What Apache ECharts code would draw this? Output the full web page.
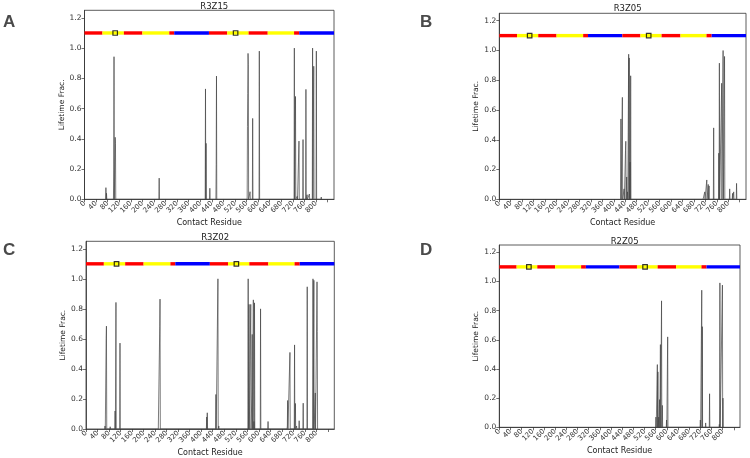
<!DOCTYPE html>
<html>
<head>
<meta charset="utf-8">
<script src="https://cdn.jsdelivr.net/npm/echarts@6/dist/echarts.min.js"></script>
<style>
  html, body { margin: 0; padding: 0; background: #fff; }
  #chart { width: 750px; height: 458px; }
</style>
</head>
<body>
<div id="chart"></div>
<script>
// residue range and tick labels
const residueMax = 862
const xTicks = [0, 40, 80, 120, 160, 200, 240, 280, 320, 360, 400, 440, 480, 520, 560, 600, 640, 680, 720, 760, 800]
const yTicks = [0, 0.2, 0.4, 0.6, 0.8, 1.0, 1.2]

// domain bar drawn at y = 1.1
const barLevel = 1.1
const segStart = [0, 62, 136, 200, 293, 310, 430, 493, 567, 633, 724, 742]
const segEnd = [62, 136, 200, 293, 310, 430, 493, 567, 633, 724, 742, 862]
const segKind = ['r', 'y', 'r', 'y', 'r', 'b', 'r', 'y', 'r', 'y', 'r', 'b']
const markResidues = [106, 522]

// lifetime fraction spikes, per panel
const titles = ['R3Z15', 'R3Z05', 'R3Z02', 'R2Z05']
const letters = ['A', 'B', 'C', 'D']

const resA = [74, 76, 101, 102, 106, 107, 258, 418, 420, 433, 455, 456, 563, 564, 565, 566, 572, 581, 604, 725, 729, 735, 741, 755, 765, 769, 777, 788, 792, 801, 818]
const valA = [0.077, 0.04, 0.2, 0.943, 0.41, 0.37, 0.14, 0.73, 0.37, 0.073, 0.23, 0.815, 0.48, 0.7, 0.965, 0.89, 0.05, 0.535, 0.98, 1.0, 0.68, 0.02, 0.385, 0.395, 0.727, 0.03, 0.035, 1.0, 0.88, 0.98, 0.015]

const resB = [425, 430, 436, 441, 442, 445, 448, 452, 454, 457, 459, 713, 718, 725, 730, 733, 749, 767, 769, 777, 782, 787, 805, 815, 819, 829]
const valB = [0.54, 0.685, 0.07, 0.33, 0.39, 0.15, 0.05, 0.975, 0.95, 0.25, 0.83, 0.01, 0.05, 0.13, 0.1, 0.09, 0.48, 0.31, 0.915, 0.78, 1.0, 0.96, 0.07, 0.04, 0.05, 0.107]

const resC = [66, 70, 71, 84, 101, 104, 118, 252, 256, 257, 419, 421, 451, 458, 461, 563, 566, 572, 576, 577, 581, 583, 585, 606, 632, 699, 700, 708, 724, 727, 731, 740, 754, 768, 788, 791, 796, 802, 803]
const valC = [0.02, 0.6, 0.685, 0.015, 0.12, 0.843, 0.572, 0.01, 0.68, 0.865, 0.08, 0.108, 0.23, 1.0, 0.02, 1.0, 0.83, 0.83, 0.24, 0.63, 0.86, 0.05, 0.84, 0.8, 0.05, 0.02, 0.19, 0.51, 0.56, 0.17, 0.02, 0.055, 0.172, 0.947, 1.0, 0.99, 0.24, 0.98, 0.65]

const resD = [561, 566, 568, 571, 574, 577, 581, 584, 599, 603, 720, 725, 727, 739, 753, 760, 788, 790, 799, 801]
const valD = [0.07, 0.43, 0.38, 0.07, 0.19, 0.567, 0.867, 0.15, 0.05, 0.62, 0.05, 0.94, 0.69, 0.03, 0.23, 0.01, 0.02, 0.99, 0.975, 0.2]

const panelRes = [resA, resB, resC, resD]
const panelVal = [valA, valB, valC, valD]

// layout of the four panels (px)
const panels = [
  { grid: { left: 84.5, top: 10.3, width: 249.5, height: 189 }, titleTop: -3, letter: [3, 14] },
  { grid: { left: 499.3, top: 13.3, width: 246.7, height: 186 }, titleTop: -0.5, letter: [420, 14] },
  { grid: { left: 86, top: 241.3, width: 248.3, height: 188 }, titleTop: 228, letter: [3, 242] },
  { grid: { left: 499.3, top: 245, width: 240.7, height: 182.3 }, titleTop: 232.5, letter: [420, 242] }
]

const kindColor = { r: '#ff0000', y: '#ffff00', b: '#0000ff' }
const font = 'DejaVu Sans'
const axisColor = '#333'

// spikes: zero on each side of a nonzero residue
const buildLine = (res, val) => {
  const m = new Map()
  res.forEach(r => {
    if (!m.has(r - 1)) m.set(r - 1, 0)
    if (!m.has(r + 1)) m.set(r + 1, 0)
  })
  res.forEach((r, i) => m.set(r, val[i]))
  return [...m.entries()].sort((a, b) => a[0] - b[0])
}

const segData = segStart.map((s, i) => [s, segEnd[i], barLevel])

const option = {
  animation: false,
  backgroundColor: '#fff',
  title: panels.map((p, i) => ({
    text: titles[i],
    left: p.grid.left + p.grid.width / 2,
    top: p.titleTop,
    textAlign: 'center',
    textStyle: { fontFamily: font, fontSize: 8.5, fontWeight: 'normal', color: '#222' }
  })),
  graphic: panels.map((p, i) => ({
    type: 'text',
    left: p.letter[0],
    top: p.letter[1],
    style: { text: letters[i], font: 'bold 17px "Liberation Sans", Arial, sans-serif', fill: '#4a4a4a' }
  })),
  grid: panels.map(p => ({
    left: p.grid.left, top: p.grid.top, width: p.grid.width, height: p.grid.height,
    show: true, borderColor: axisColor, borderWidth: 0.8, backgroundColor: 'transparent'
  })),
  xAxis: panels.map((p, i) => ({
    type: 'value', gridIndex: i, min: 0, max: residueMax, interval: 40,
    name: 'Contact Residue', nameLocation: 'middle', nameGap: 20,
    nameTextStyle: { fontFamily: font, fontSize: 8, color: '#222' },
    axisLine: { show: true, onZero: false, lineStyle: { color: axisColor, width: 0.8 } },
    axisTick: { show: true, length: 3, lineStyle: { color: axisColor, width: 0.7 } },
    splitLine: { show: false },
    axisLabel: {
      rotate: 45, fontFamily: font, fontSize: 7, color: '#333', margin: 3,
      showMaxLabel: false,
      formatter: v => (xTicks.includes(v) ? String(v) : '')
    }
  })),
  yAxis: panels.map((p, i) => ({
    type: 'value', gridIndex: i, min: 0, max: 1.25, interval: 0.2,
    name: 'Lifetime Frac.', nameLocation: 'middle', nameGap: 18,
    nameTextStyle: { fontFamily: font, fontSize: 7.5, color: '#222' },
    axisLine: { show: true, lineStyle: { color: axisColor, width: 0.8 } },
    axisTick: { show: true, length: 3, lineStyle: { color: axisColor, width: 0.7 } },
    splitLine: { show: false },
    axisLabel: {
      fontFamily: font, fontSize: 7.5, color: '#333', margin: 3,
      showMaxLabel: false,
      formatter: v => (yTicks.some(t => Math.abs(t - v) < 1e-6) ? v.toFixed(1) : '')
    }
  })),
  series: [
    ...panels.map((p, i) => ({
      type: 'line', xAxisIndex: i, yAxisIndex: i,
      data: buildLine(panelRes[i], panelVal[i]),
      showSymbol: false,
      lineStyle: { color: '#444', width: 0.7 },
      z: 2
    })),
    ...panels.map((p, i) => ({
      type: 'custom', xAxisIndex: i, yAxisIndex: i,
      data: segData,
      renderItem: (params, api) => {
        const a = api.coord([api.value(0), api.value(2)])
        const b = api.coord([api.value(1), api.value(2)])
        return {
          type: 'rect',
          shape: { x: a[0], y: a[1] - 1.7, width: b[0] - a[0], height: 3.4 },
          style: { fill: kindColor[segKind[params.dataIndex]] }
        }
      },
      z: 3
    })),
    ...panels.map((p, i) => ({
      type: 'scatter', xAxisIndex: i, yAxisIndex: i,
      data: markResidues.map(r => [r, barLevel]),
      symbol: 'rect', symbolSize: 4.5,
      itemStyle: { color: 'rgba(0,0,0,0)', borderColor: '#000', borderWidth: 1.2 },
      z: 4
    }))
  ]
}

const chart = echarts.init(document.getElementById('chart'))
chart.setOption(option)
</script>
</body>
</html>
